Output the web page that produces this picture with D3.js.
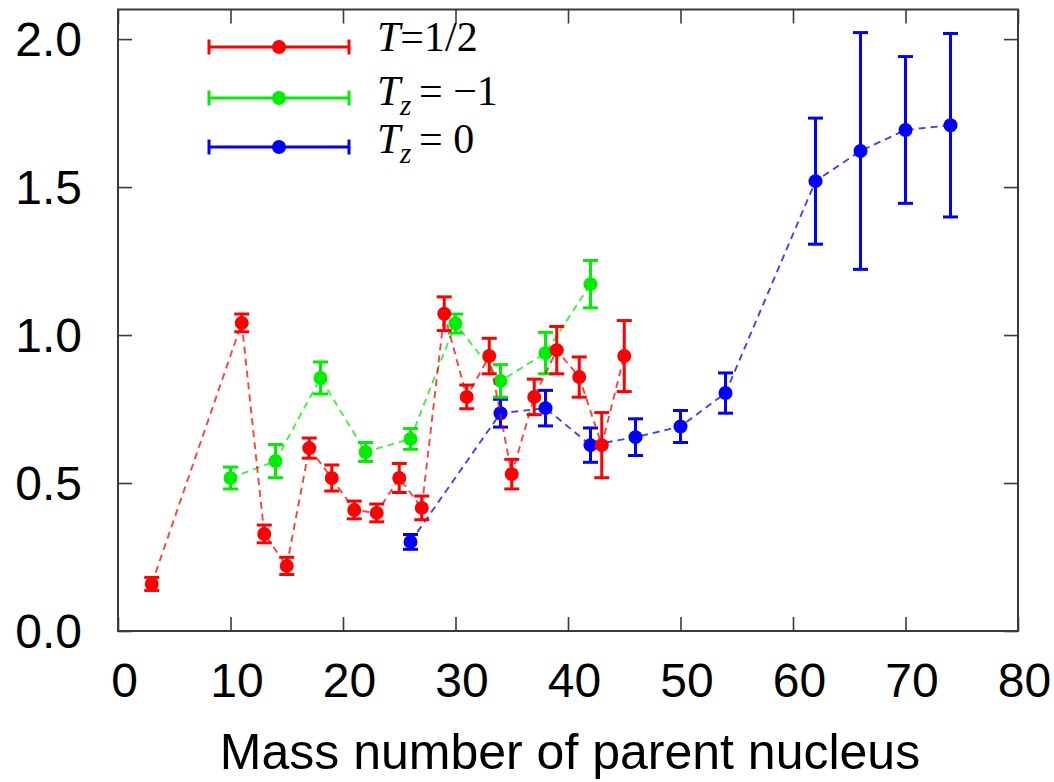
<!DOCTYPE html>
<html>
<head>
<meta charset="utf-8">
<script src="https://cdn.jsdelivr.net/npm/d3@7"></script>
<style>
  html, body { margin: 0; padding: 0; background: #fff; }
  svg { display: block; }
</style>
</head>
<body>
<svg id="chart" width="1054" height="782"></svg>
<script>
// ---- Data ----
const seriesNames = ["T=1/2", "Tz=-1", "Tz=0"];

const massHalf  = [3, 11, 13, 15, 17, 19, 21, 23, 25, 27, 29, 31, 33, 35, 37, 39, 41, 43, 45];
const valueHalf = [0.159, 1.041, 0.328, 0.220, 0.618, 0.517, 0.409, 0.399, 0.517, 0.416, 1.072, 0.791, 0.929, 0.530, 0.791, 0.949, 0.858, 0.628, 0.929];
const errHalf   = [0.022, 0.030, 0.030, 0.029, 0.034, 0.044, 0.030, 0.030, 0.049, 0.040, 0.057, 0.040, 0.060, 0.050, 0.060, 0.080, 0.068, 0.110, 0.120];

const massTzM1  = [10, 14, 18, 22, 26, 30, 34, 38, 42];
const valueTzM1 = [0.517, 0.574, 0.855, 0.605, 0.649, 1.039, 0.845, 0.939, 1.172];
const errTzM1   = [0.037, 0.056, 0.054, 0.032, 0.035, 0.032, 0.055, 0.070, 0.080];

const massTz0   = [26, 34, 38, 42, 46, 50, 54, 62, 66, 70, 74];
const valueTz0  = [0.301, 0.736, 0.753, 0.628, 0.655, 0.691, 0.804, 1.520, 1.622, 1.693, 1.709];
const errTz0    = [0.025, 0.047, 0.060, 0.058, 0.062, 0.054, 0.068, 0.213, 0.400, 0.248, 0.310];

const xTickValues = [0, 10, 20, 30, 40, 50, 60, 70, 80];
const yTickValues = [0.0, 0.5, 1.0, 1.5, 2.0];
const xTitle = "Mass number of parent nucleus";

// ---- Layout ----
const svg = d3.select("#chart");
const L = 118, R = 1018, T = 9.5, B = 631;
const x = d3.scaleLinear().domain([0, 80]).range([L, R]);
const y = d3.scaleLinear().domain([0, 2.1]).range([B, T]);

const series = [
  { name: seriesNames[2], color: "#0000ff", xs: massTz0,  ys: valueTz0,  es: errTz0 },
  { name: seriesNames[1], color: "#00ee00", xs: massTzM1, ys: valueTzM1, es: errTzM1 },
  { name: seriesNames[0], color: "#ff0000", xs: massHalf, ys: valueHalf, es: errHalf }
];

const frameColor = "#3a3a3a";
const tickLen = 14;
const sansFont = "'Liberation Sans', Arial, Helvetica, sans-serif";
const serifFont = "'Liberation Serif', 'Times New Roman', serif";

// Axes (inward ticks, mirrored)
const gx = svg.append("g").attr("transform", `translate(0,${B})`)
  .call(d3.axisBottom(x).tickValues(xTickValues).tickSize(-tickLen).tickPadding(32).tickFormat(d3.format("d")));
const gxTop = svg.append("g").attr("transform", `translate(0,${T})`)
  .call(d3.axisTop(x).tickValues(xTickValues).tickSize(-tickLen).tickFormat(""));
const gy = svg.append("g").attr("transform", `translate(${L},0)`)
  .call(d3.axisLeft(y).tickValues(yTickValues).tickSize(-tickLen).tickPadding(36).tickFormat(d3.format(".1f")));
const gyRight = svg.append("g").attr("transform", `translate(${R},0)`)
  .call(d3.axisRight(y).tickValues(yTickValues).tickSize(-tickLen).tickFormat(""));

[gx, gxTop, gy, gyRight].forEach(g => {
  g.select(".domain").remove();
  g.selectAll(".tick line").attr("stroke", frameColor).attr("stroke-width", 1.6);
  g.selectAll("text").attr("fill", "#000").style("font-family", sansFont).style("font-size", "48px");
});
gx.selectAll("text").attr("dx", 6);
gy.selectAll("text").attr("dy", "0.34em");

// Frame
svg.append("rect")
  .attr("x", L).attr("y", T).attr("width", R - L).attr("height", B - T)
  .attr("fill", "none").attr("stroke", frameColor).attr("stroke-width", 2);

// X title
svg.append("text")
  .attr("x", 570).attr("y", 769)
  .attr("text-anchor", "middle")
  .style("font-family", sansFont).style("font-size", "50px")
  .attr("fill", "#000")
  .text(xTitle);

// Series
const capW = 7.5;
const line = d3.line().x(d => x(d[0])).y(d => y(d[1]));

series.forEach(s => {
  const pts = s.xs.map((v, i) => [v, s.ys[i], s.es[i]]);
  const g = svg.append("g");
  g.append("path")
    .attr("d", line(pts))
    .attr("fill", "none")
    .attr("stroke", s.color)
    .attr("stroke-width", 1.9)
    .attr("stroke-opacity", 0.75)
    .attr("stroke-dasharray", "7,5");
  const eb = g.selectAll(".eb").data(pts).enter().append("g");
  eb.append("line")
    .attr("x1", d => x(d[0])).attr("x2", d => x(d[0]))
    .attr("y1", d => y(d[1] - d[2])).attr("y2", d => y(d[1] + d[2]))
    .attr("stroke", s.color).attr("stroke-width", 3);
  eb.append("line")
    .attr("x1", d => x(d[0]) - capW).attr("x2", d => x(d[0]) + capW)
    .attr("y1", d => y(d[1] + d[2])).attr("y2", d => y(d[1] + d[2]))
    .attr("stroke", s.color).attr("stroke-width", 3);
  eb.append("line")
    .attr("x1", d => x(d[0]) - capW).attr("x2", d => x(d[0]) + capW)
    .attr("y1", d => y(d[1] - d[2])).attr("y2", d => y(d[1] - d[2]))
    .attr("stroke", s.color).attr("stroke-width", 3);
  eb.append("circle")
    .attr("cx", d => x(d[0])).attr("cy", d => y(d[1]))
    .attr("r", 7).attr("fill", s.color);
});

// Legend
const legend = [
  { color: "#ff0000", ly: 47, by: 51, kind: "half" },
  { color: "#00ee00", ly: 98, by: 105, kind: "m1" },
  { color: "#0000ff", ly: 147, by: 153, kind: "zero" }
];
const lx1 = 209, lx2 = 349, lxm = 279;
legend.forEach(e => {
  const g = svg.append("g");
  g.append("line").attr("x1", lx1).attr("x2", lx2).attr("y1", e.ly).attr("y2", e.ly)
    .attr("stroke", e.color).attr("stroke-width", 3);
  [lx1, lx2].forEach(cx => g.append("line").attr("x1", cx).attr("x2", cx)
    .attr("y1", e.ly - 7.5).attr("y2", e.ly + 7.5).attr("stroke", e.color).attr("stroke-width", 3));
  g.append("circle").attr("cx", lxm).attr("cy", e.ly).attr("r", 7).attr("fill", e.color);

  const t = g.append("text").attr("x", 377).attr("y", e.by)
    .style("font-family", serifFont).style("font-size", "42px").attr("fill", "#000");
  if (e.kind === "half") {
    t.append("tspan").style("font-style", "italic").text("T");
    t.append("tspan").text("=1/2");
  } else {
    t.append("tspan").style("font-style", "italic").text("T");
    t.append("tspan").attr("x", 400).attr("dy", 10).style("font-style", "italic").style("font-size", "29px").text("z");
    t.append("tspan").attr("x", 419).attr("dy", -10).text(e.kind === "m1" ? "= \u22121" : "= 0");
  }
});
</script>
</body>
</html>
